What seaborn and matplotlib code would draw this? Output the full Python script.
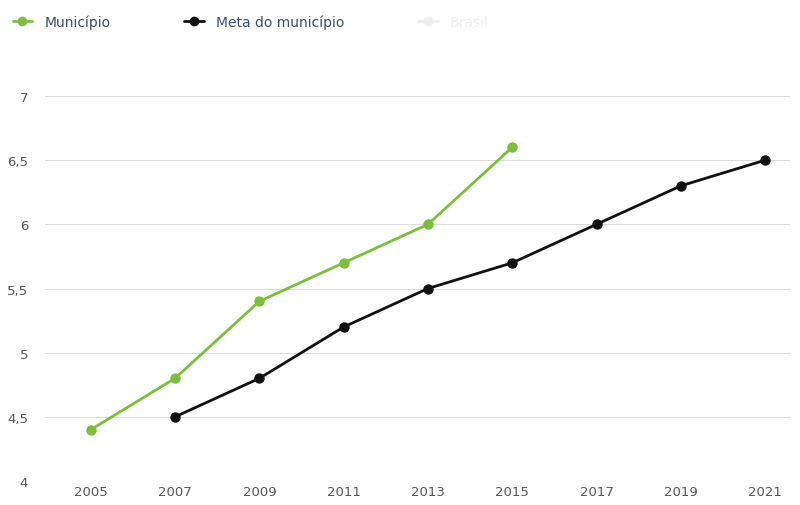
import numpy as np
import pandas as pd
import matplotlib
matplotlib.use("Agg")
import matplotlib.pyplot as plt
import seaborn as sns
from matplotlib.lines import Line2D

# dados
anos_mun = [2005, 2007, 2009, 2011, 2013, 2015]
municipio = [4.4, 4.8, 5.4, 5.7, 6.0, 6.6]

anos_meta = [2007, 2009, 2011, 2013, 2015, 2017, 2019, 2021]
meta = [4.5, 4.8, 5.2, 5.5, 5.7, 6.0, 6.3, 6.5]

xticks = [2005, 2007, 2009, 2011, 2013, 2015, 2017, 2019, 2021]
yticks = [4, 4.5, 5, 5.5, 6, 6.5, 7]

df = pd.concat([
    pd.DataFrame({"ano": anos_mun, "valor": municipio, "serie": "Município"}),
    pd.DataFrame({"ano": anos_meta, "valor": meta, "serie": "Meta do município"}),
])

sns.set_theme(style="white")
plt.rcParams['font.family'] = ['DejaVu Sans']

fig = plt.figure(figsize=(8, 5.06), dpi=100)
ax = fig.add_axes([0.056, 0.0474, 0.9315, 0.7609])

palette = {"Município": "#7cbf3f", "Meta do município": "#111111"}
sns.lineplot(data=df, x="ano", y="valor", hue="serie", palette=palette,
             marker="o", markersize=7.5, markeredgewidth=0, linewidth=2,
             ax=ax, legend=False)

ax.set_xlim(2003.91, 2021.59)
ax.set_ylim(4, 7)
ax.set_xticks(xticks)
ax.set_yticks(yticks)
ax.set_yticklabels([f"{v:g}".replace(".", ",") for v in yticks])
ax.grid(axis="y", color="#dcdcdc", linewidth=0.8)
ax.set_axisbelow(True)
for s in ax.spines.values():
    s.set_visible(False)
ax.tick_params(axis="both", length=0, labelsize=9.5, colors="#555555")
ax.tick_params(axis="x", pad=3)
ax.tick_params(axis="y", pad=12)
ax.set_xlabel("")
ax.set_ylabel("")

# legenda no topo
handles = [
    Line2D([], [], color="#7cbf3f", marker="o", markersize=7, linewidth=2, markeredgewidth=0),
    Line2D([], [], color="#111111", marker="o", markersize=7, linewidth=2, markeredgewidth=0),
    Line2D([], [], color="#eeeeee", marker="o", markersize=7, linewidth=2, markeredgewidth=0),
]
leg = fig.legend(handles, ["Município", "Meta do município", "Brasil"],
                 loc="upper left", bbox_to_anchor=(0.0, 0.995), ncol=3,
                 frameon=False, fontsize=10, handlelength=1.4,
                 handletextpad=0.9, columnspacing=5.3)
cores = ["#3d4a6b", "#3d4a6b", "#eeeeee"]
for t, c in zip(leg.get_texts(), cores):
    t.set_color(c)

fig.savefig("out.png", dpi=100)
